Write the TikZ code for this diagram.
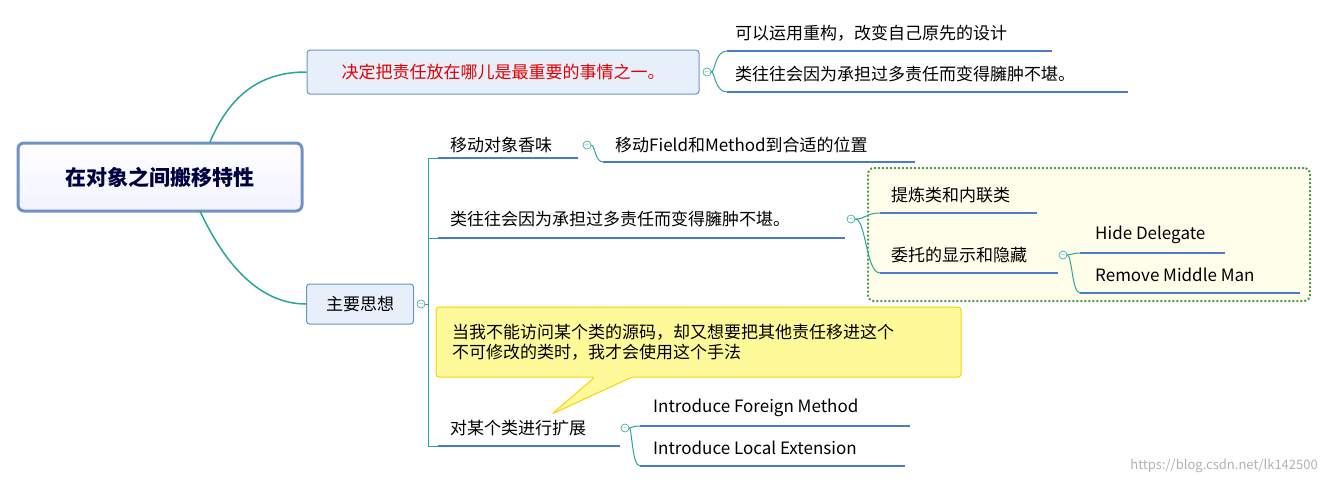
\documentclass[tikz,border=0pt]{standalone}
\usepackage{fontspec}
\setmainfont{Noto Sans CJK SC}
\usetikzlibrary{shapes.geometric}
\definecolor{ul}{HTML}{4A7CC9}
\definecolor{teal1}{HTML}{2AA59A}
\definecolor{boxb}{HTML}{6F93C8}
\definecolor{boxf}{HTML}{E6EFFA}
\begin{document}
\begin{tikzpicture}[x=1pt,y=-1pt,
 txt/.style={anchor=west,inner sep=0pt,font=\fontsize{17}{20}\selectfont},
 uline/.style={ul,line width=1.6pt},
 conn/.style={teal1,line width=1pt},
 coll/.style={circle,draw=teal1,fill=white,minimum size=8pt,inner sep=0pt,line width=0.6pt,
   label={[inner sep=0pt,teal1,font=\fontsize{7}{7}\selectfont]center:$-$}}]
\useasboundingbox (0,0) rectangle (1328,483);
% root
\node[draw=boxb,line width=3pt,rounded corners=6pt,top color=white,bottom color=boxf!80!blue!20,
 minimum width=284pt,minimum height=68pt,font=\fontsize{21}{24}\selectfont\bfseries,text=black!75!blue] (root) at (160,177) {在对象之间搬移特性};
% node A
\node[draw=boxb,line width=1pt,rounded corners=3pt,fill=boxf,minimum width=392pt,minimum height=44pt,
 font=\fontsize{17}{20}\selectfont,text=red!90!black] (A) at (503,72) {决定把责任放在哪儿是最重要的事情之一。};
\node[draw=boxb,line width=1pt,rounded corners=3pt,fill=boxf,minimum width=107pt,minimum height=40pt,
 font=\fontsize{17}{20}\selectfont] (B) at (360,304) {主要思想};
\draw[conn,line width=1.5pt] (210,142) .. controls (230,95) and (260,72) .. (A.west);
\draw[conn,line width=1.5pt] (200,211) .. controls (225,265) and (260,304) .. (B.west);
% A children
\node[coll] (cA) at (707,72) {};
\coordinate (a1) at (727,51); \coordinate (a2) at (727,92);
\draw[conn] (cA) .. controls (715,72) and (715,51) .. (a1);
\draw[conn] (cA) .. controls (715,72) and (715,92) .. (a2);
\draw[uline] (a1) -- (1052,51); \draw[uline] (a2) -- (1128,92);
\node[txt] (ta1) at (735,33) {可以运用重构，改变自己原先的设计};
\node[txt] (ta2) at (735,74) {类往往会因为承担过多责任而变得臃肿不堪。};
% B tree
\node[coll] (cB) at (421,304) {};
\coordinate (b1) at (438,158); \coordinate (b2) at (438,238); \coordinate (b3) at (438,446);
\draw[conn] (428,158) -- (428,446);
\draw[conn] (b1) -- (428,158); \draw[conn] (b2) -- (428,238); \draw[conn] (b3) -- (428,446);
\draw[conn] (cB) -- (428,304);
\draw[uline] (b1) -- (578,158); \draw[uline] (b2) -- (845,238); \draw[uline] (b3) -- (620,446);
\node[txt] (tb1) at (450,145) {移动对象香味};
\node[txt] (tb2) at (450,219) {类往往会因为承担过多责任而变得臃肿不堪。};
\node[txt] (tb3) at (450,428) {对某个类进行扩展};
% b1 child
\node[coll] (c1) at (587,145) {};
\draw[conn] (c1) .. controls (595,145) and (595,162) .. (603,162);
\draw[uline] (603,162) -- (915,162);
\node[txt] (t11) at (615,145) {移动Field和Method到合适的位置};
% green box
\node[draw=green!45!black!70,dotted,line width=2pt,rounded corners=6pt,fill=yellow!8,
 minimum width=442pt,minimum height=133pt] (gb) at (1089,234.5) {};
\node[coll] (c2) at (851,219) {};
\draw[conn] (c2) .. controls (866,219) and (866,213) .. (880,213);
\draw[conn] (c2) .. controls (866,219) and (866,273) .. (880,273);
\draw[uline] (880,213) -- (1037,213); \draw[uline] (880,273) -- (1058,273);
\node[txt] (t21) at (891,195) {提炼类和内联类};
\node[txt] (t22) at (891,255) {委托的显示和隐藏};
\node[coll] (c3) at (1063,255) {};
\draw[conn] (c3) .. controls (1072,255) and (1072,253) .. (1080,253);
\draw[conn] (c3) .. controls (1072,255) and (1072,293) .. (1080,293);
\draw[uline] (1080,253) -- (1225,253); \draw[uline] (1080,293) -- (1300,293);
\node[txt] (t31) at (1095,235) {Hide Delegate};
\node[txt] (t32) at (1095,275) {Remove Middle Man};
% b3 children
\node[coll] (c4) at (625,428) {};
\draw[conn] (c4) .. controls (632,428) and (632,426) .. (640,426);
\draw[conn] (c4) .. controls (632,428) and (632,466) .. (640,466);
\draw[uline] (640,426) -- (910,426); \draw[uline] (640,466) -- (905,466);
\node[txt] (t41) at (653,408) {Introduce Foreign Method};
\node[txt] (t42) at (653,448) {Introduce Local Extension};
% callout
\draw[draw=yellow!70!orange,fill=yellow!40!white,line width=1pt,rounded corners=3pt]
 (436,307) -- (961,307) -- (961,377) -- (632,377) -- (552,414) -- (595,377) -- (436,377) -- cycle;
\node[txt,align=left] (call) at (452,342) {当我不能访问某个类的源码，却又想要把其他责任移进这个\\不可修改的类时，我才会使用这个手法};
% watermark
\node[anchor=east,inner sep=0pt,text=gray!60,font=\fontsize{13}{15}\selectfont] (wm) at (1318,466) {https://blog.csdn.net/lk142500};
\end{tikzpicture}
\end{document}
